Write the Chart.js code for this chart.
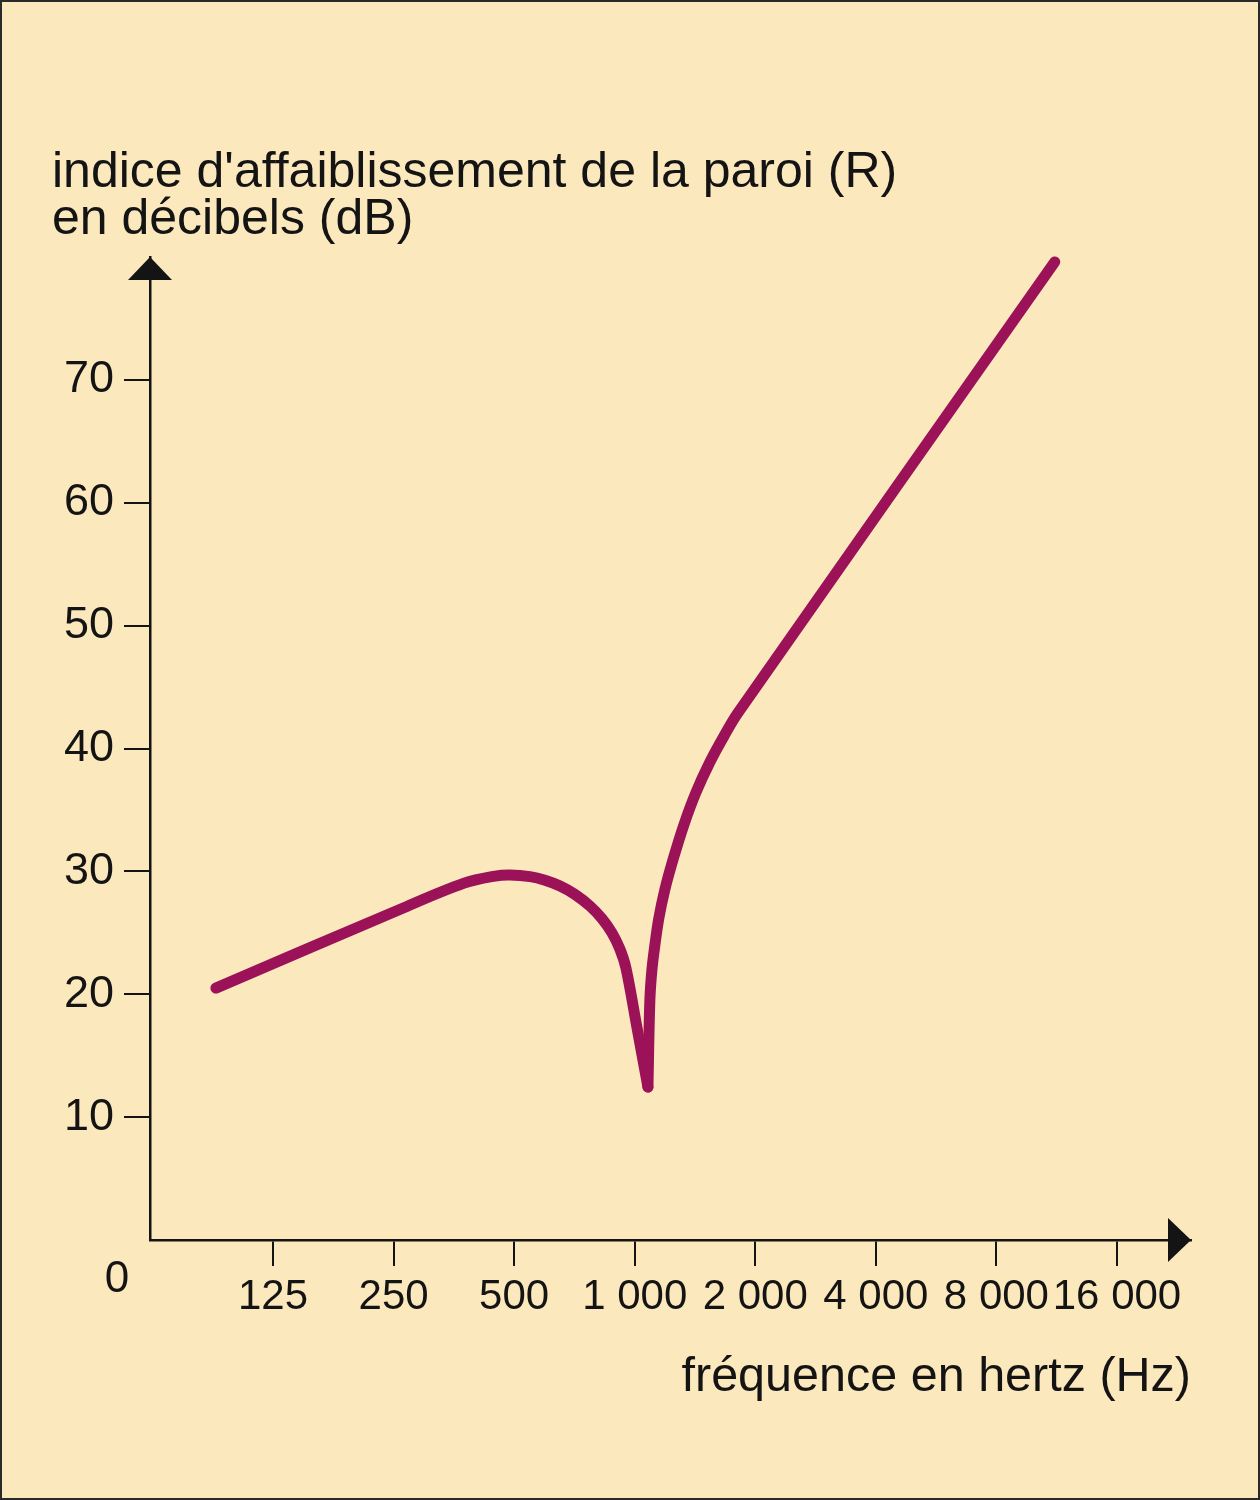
<!DOCTYPE html>
<html>
<head>
<meta charset="utf-8">
<script src="https://cdn.jsdelivr.net/npm/chart.js@4/dist/chart.umd.min.js"></script>
<style>
  html, body { margin: 0; padding: 0; background: #FBE9BD; }
  canvas { display: block; }
</style>
</head>
<body>
<canvas id="c" width="1260" height="1500" style="width:1260px;height:1500px"></canvas>
<script>
// ---- data ----
// first branch: from the start to the coincidence dip
const branchAFreqHz = [90, 259, 375, 448, 488, 548, 597, 651, 709, 773, 828, 877, 918, 951, 1013, 1079];
const branchADb     = [20.5, 26.9, 29.04, 29.62, 29.71, 29.57, 29.28, 28.81, 28.13, 27.18, 26.16, 25.0, 23.69, 22.13, 17.3, 12.45];
// second branch: from the dip to the end
const branchBFreqHz = [1079, 1091, 1104, 1123, 1149, 1189, 1245, 1327, 1421, 1541, 1670, 1810, 11190];
const branchBDb     = [12.45, 19.5, 22.0, 24.0, 26.2, 28.5, 30.9, 33.8, 36.4, 38.9, 41.0, 42.9, 79.6];

const xTickValues = [125, 250, 500, 1000, 2000, 4000, 8000, 16000];
const xTickLabels = ['125', '250', '500', '1 000', '2 000', '4 000', '8 000', '16 000'];
const yTickValues = [10, 20, 30, 40, 50, 60, 70];

const titleLines = ["indice d'affaiblissement de la paroi (R)", "en décibels (dB)"];
const xAxisTitle = 'fréquence en hertz (Hz)';
const originLabel = '0';

// ---- style ----
const BG = '#FBE9BD';
const INK = '#141414';
const CURVE = '#9C1258';
const FONT = "'Liberation Sans', Arial, Helvetica, sans-serif";

const toPts = (fx, fy) => fx.map((f, i) => ({ x: f, y: fy[i] }));

const deco = {
  id: 'deco',
  beforeDraw(chart) {
    const c = chart.ctx;
    c.save();
    c.fillStyle = BG;
    c.fillRect(0, 0, chart.width, chart.height);
    c.restore();
  },
  afterDraw(chart) {
    const { ctx, chartArea: a } = chart;
    ctx.save();
    ctx.fillStyle = INK;
    // y arrow
    ctx.beginPath();
    ctx.moveTo(a.left, a.top);
    ctx.lineTo(a.left - 22, a.top + 23);
    ctx.lineTo(a.left + 22, a.top + 23);
    ctx.closePath();
    ctx.fill();
    // x arrow
    ctx.beginPath();
    ctx.moveTo(a.right, a.bottom);
    ctx.lineTo(a.right - 23, a.bottom - 22);
    ctx.lineTo(a.right - 23, a.bottom + 22);
    ctx.closePath();
    ctx.fill();
    // origin label
    ctx.font = '44px ' + FONT;
    ctx.textAlign = 'center';
    ctx.textBaseline = 'middle';
    ctx.fillText(originLabel, a.left - 33, a.bottom + 40);
    // frame
    ctx.strokeStyle = '#2a2a2a';
    ctx.lineWidth = 2;
    ctx.strokeRect(1, 1, chart.width - 2, chart.height - 2);
    ctx.restore();
  }
};

const lineStyle = {
  borderColor: CURVE,
  borderWidth: 11,
  borderCapStyle: 'round',
  borderJoinStyle: 'round',
  pointRadius: 0,
  pointHoverRadius: 0,
  tension: 0.35,
  fill: false,
  clip: false
};

new Chart(document.getElementById('c'), {
  type: 'line',
  data: {
    datasets: [
      Object.assign({ label: 'R (a)', data: toPts(branchAFreqHz, branchADb) }, lineStyle),
      Object.assign({ label: 'R (b)', data: toPts(branchBFreqHz, branchBDb) }, lineStyle)
    ]
  },
  options: {
    responsive: false,
    devicePixelRatio: 1,
    animation: false,
    events: [],
    layout: { padding: { top: 0, left: 52, right: 69, bottom: 0 } },
    plugins: {
      legend: { display: false },
      tooltip: { enabled: false },
      title: {
        display: true,
        text: titleLines,
        align: 'start',
        color: INK,
        font: { family: FONT, size: 50, weight: 'normal', lineHeight: 47 / 50 },
        padding: { top: 149.5, bottom: 13.5 }
      }
    },
    scales: {
      x: {
        type: 'logarithmic',
        position: 'bottom',
        min: 61.63,
        max: 24486,
        bounds: 'data',
        afterBuildTicks: s => { s.ticks = xTickValues.map(v => ({ value: v })); },
        afterFit: s => { s.height = 260; },
        grid: { drawOnChartArea: false, drawTicks: true, tickLength: 26, color: INK, lineWidth: 2 },
        border: { display: true, color: INK, width: 2.5 },
        ticks: {
          autoSkip: false,
          maxRotation: 0,
          minRotation: 0,
          padding: 10,
          color: INK,
          font: { family: FONT, size: 42, lineHeight: 1 },
          callback: (v, i) => xTickLabels[i]
        },
        title: {
          display: true,
          text: xAxisTitle,
          align: 'end',
          color: INK,
          font: { family: FONT, size: 48.5, lineHeight: 1 },
          padding: { top: 0, bottom: 98 }
        }
      },
      y: {
        type: 'linear',
        position: 'left',
        min: 0,
        max: 80,
        afterBuildTicks: s => { s.ticks = yTickValues.map(v => ({ value: v })); },
        afterFit: s => { s.width = 98; },
        grid: { drawOnChartArea: false, drawTicks: true, tickLength: 26, color: INK, lineWidth: 2 },
        border: { display: true, color: INK, width: 2.5 },
        ticks: {
          padding: 10,
          color: INK,
          font: { family: FONT, size: 45, lineHeight: 1 },
          callback: v => String(v)
        }
      }
    }
  },
  plugins: [deco]
});
</script>
</body>
</html>
